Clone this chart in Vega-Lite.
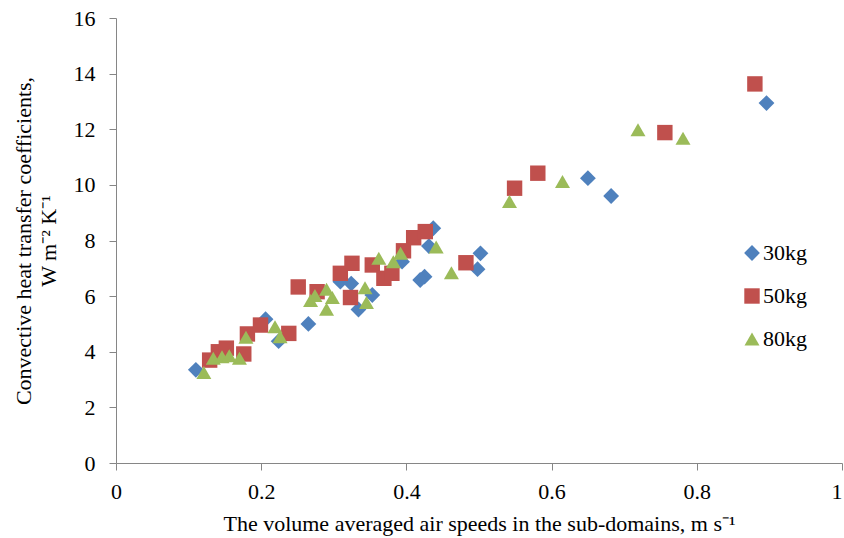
{
  "$schema": "https://vega.github.io/schema/vega-lite/v6.json",
  "width": 726,
  "height": 445,
  "autosize": {"type": "none"},
  "padding": {"left": 116, "top": 18, "right": 2, "bottom": 75},
  "background": "white",
  "config": {
    "view": {"stroke": null},
    "font": "Liberation Serif",
    "axis": {
      "grid": false,
      "domainColor": "#868686",
      "tickColor": "#868686",
      "tickSize": 7,
      "labelFont": "Liberation Serif",
      "labelFontSize": 22,
      "labelColor": "#000000",
      "titleFont": "Liberation Serif",
      "titleFontSize": 22,
      "titleFontWeight": "normal",
      "titleColor": "#000000"
    }
  },
  "data": {
    "values": [
      {"series": "30kg", "speed": 0.110, "h": 3.35},
      {"series": "30kg", "speed": 0.206, "h": 5.17},
      {"series": "30kg", "speed": 0.224, "h": 4.38},
      {"series": "30kg", "speed": 0.265, "h": 5.00},
      {"series": "30kg", "speed": 0.309, "h": 6.52},
      {"series": "30kg", "speed": 0.324, "h": 6.45},
      {"series": "30kg", "speed": 0.334, "h": 5.52},
      {"series": "30kg", "speed": 0.353, "h": 6.04},
      {"series": "30kg", "speed": 0.394, "h": 7.24},
      {"series": "30kg", "speed": 0.425, "h": 6.70},
      {"series": "30kg", "speed": 0.419, "h": 6.58},
      {"series": "30kg", "speed": 0.431, "h": 7.80},
      {"series": "30kg", "speed": 0.437, "h": 8.44},
      {"series": "30kg", "speed": 0.502, "h": 7.54},
      {"series": "30kg", "speed": 0.498, "h": 6.97},
      {"series": "30kg", "speed": 0.650, "h": 10.24},
      {"series": "30kg", "speed": 0.682, "h": 9.60},
      {"series": "30kg", "speed": 0.896, "h": 12.94},
      {"series": "50kg", "speed": 0.129, "h": 3.70},
      {"series": "50kg", "speed": 0.141, "h": 4.00},
      {"series": "50kg", "speed": 0.152, "h": 4.13},
      {"series": "50kg", "speed": 0.176, "h": 3.92},
      {"series": "50kg", "speed": 0.181, "h": 4.64},
      {"series": "50kg", "speed": 0.199, "h": 4.96},
      {"series": "50kg", "speed": 0.238, "h": 4.66},
      {"series": "50kg", "speed": 0.251, "h": 6.33},
      {"series": "50kg", "speed": 0.277, "h": 6.16},
      {"series": "50kg", "speed": 0.309, "h": 6.82},
      {"series": "50kg", "speed": 0.325, "h": 7.18},
      {"series": "50kg", "speed": 0.323, "h": 5.95},
      {"series": "50kg", "speed": 0.353, "h": 7.12},
      {"series": "50kg", "speed": 0.369, "h": 6.64},
      {"series": "50kg", "speed": 0.380, "h": 6.82},
      {"series": "50kg", "speed": 0.396, "h": 7.63},
      {"series": "50kg", "speed": 0.410, "h": 8.10},
      {"series": "50kg", "speed": 0.426, "h": 8.32},
      {"series": "50kg", "speed": 0.482, "h": 7.20},
      {"series": "50kg", "speed": 0.549, "h": 9.88},
      {"series": "50kg", "speed": 0.581, "h": 10.42},
      {"series": "50kg", "speed": 0.756, "h": 11.88},
      {"series": "50kg", "speed": 0.880, "h": 13.63},
      {"series": "80kg", "speed": 0.121, "h": 3.25},
      {"series": "80kg", "speed": 0.134, "h": 3.77},
      {"series": "80kg", "speed": 0.146, "h": 3.82},
      {"series": "80kg", "speed": 0.156, "h": 3.86},
      {"series": "80kg", "speed": 0.170, "h": 3.77},
      {"series": "80kg", "speed": 0.179, "h": 4.52},
      {"series": "80kg", "speed": 0.219, "h": 4.90},
      {"series": "80kg", "speed": 0.226, "h": 4.54},
      {"series": "80kg", "speed": 0.268, "h": 5.84},
      {"series": "80kg", "speed": 0.274, "h": 6.02},
      {"series": "80kg", "speed": 0.290, "h": 6.25},
      {"series": "80kg", "speed": 0.298, "h": 5.95},
      {"series": "80kg", "speed": 0.290, "h": 5.53},
      {"series": "80kg", "speed": 0.343, "h": 6.30},
      {"series": "80kg", "speed": 0.345, "h": 5.77},
      {"series": "80kg", "speed": 0.362, "h": 7.36},
      {"series": "80kg", "speed": 0.382, "h": 7.24},
      {"series": "80kg", "speed": 0.392, "h": 7.54},
      {"series": "80kg", "speed": 0.441, "h": 7.77},
      {"series": "80kg", "speed": 0.462, "h": 6.84},
      {"series": "80kg", "speed": 0.542, "h": 9.40},
      {"series": "80kg", "speed": 0.615, "h": 10.12},
      {"series": "80kg", "speed": 0.719, "h": 11.98},
      {"series": "80kg", "speed": 0.781, "h": 11.68}
    ]
  },
  "mark": {"type": "point", "filled": true, "opacity": 1, "strokeWidth": 0},
  "encoding": {
    "x": {
      "field": "speed",
      "type": "quantitative",
      "scale": {"domain": [0, 1], "nice": false},
      "axis": {
        "values": [0, 0.2, 0.4, 0.6, 0.8, 1],
        "format": "~g",
        "labelFlush": false,
        "labelOverlap": false,
        "labelAlign": {"condition": {"test": "datum.value >= 1", "value": "right"}, "value": "center"},
        "labelPadding": 11,
        "title": "The volume averaged air speeds in the sub-domains, m s⁻¹",
        "titlePadding": 11
      }
    },
    "y": {
      "field": "h",
      "type": "quantitative",
      "scale": {"domain": [0, 16], "nice": false},
      "axis": {
        "values": [0, 2, 4, 6, 8, 10, 12, 14, 16],
        "labelPadding": 14,
        "title": ["Convective heat transfer coefficients,", "W m⁻² K⁻¹"],
        "titleLineHeight": 25,
        "titlePadding": 13
      }
    },
    "color": {
      "field": "series",
      "type": "nominal",
      "scale": {"domain": ["30kg", "50kg", "80kg"], "range": ["#4F81BD", "#C0504D", "#9BBB59"]},
      "legend": {
        "title": null,
        "orient": "none",
        "legendX": 625,
        "legendY": 224,
        "labelFont": "Liberation Serif",
        "labelFontSize": 22,
        "labelColor": "#000000",
        "symbolSize": 220,
        "symbolStrokeWidth": 0,
        "rowPadding": 21,
        "labelOffset": 0
      }
    },
    "shape": {
      "field": "series",
      "type": "nominal",
      "scale": {"domain": ["30kg", "50kg", "80kg"], "range": ["diamond", "square", "triangle-up"]}
    },
    "size": {
      "field": "series",
      "type": "ordinal",
      "scale": {"domain": ["30kg", "50kg", "80kg"], "range": [250, 225, 250]},
      "legend": null
    }
  }
}
